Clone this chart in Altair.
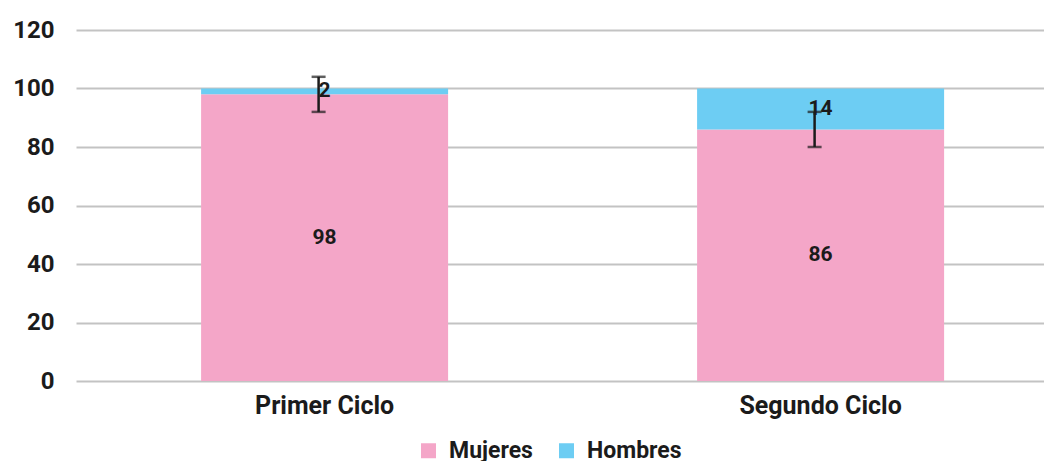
import altair as alt
import pandas as pd

# ---- data ----
categories = ["Primer Ciclo", "Segundo Ciclo"]
series = ["Mujeres", "Hombres"]
mujeres = [98, 86]
hombres = [2, 14]
error = [6, 6]
y_ticks = [0, 20, 40, 60, 80, 100, 120]

PINK = "#F4A6C8"
BLUE = "#6DCDF3"
INK = "#1b1b1b"
GRID = "#C3C3C3"
FONT = "Roboto"

rows = []
for i, c in enumerate(categories):
    rows.append({"ciclo": c, "serie": series[0], "valor": mujeres[i], "orden": 0})
    rows.append({"ciclo": c, "serie": series[1], "valor": hombres[i], "orden": 1})
df = pd.DataFrame(rows)
err_df = pd.DataFrame({"ciclo": categories, "valor": mujeres, "err": error})

x_enc = alt.X(
    "ciclo:N",
    sort=categories,
    scale=alt.Scale(paddingInner=0.502, paddingOuter=0.2268, align=0.556),
    axis=alt.Axis(
        title=None, labelAngle=0, labelFont=FONT, labelFontWeight="bold",
        labelFontSize=25, labelColor=INK, labelPadding=12, ticks=False,
        domain=False,
    ),
)
y_scale = alt.Scale(domain=[0, 120], nice=False)
y_axis = alt.Axis(
    title=None, values=y_ticks, labelFont=FONT, labelFontWeight="bold",
    labelFontSize=24, labelColor=INK, labelPadding=22, ticks=False,
    domain=False, grid=True, gridColor=GRID, gridWidth=2,
)

base = alt.Chart(df).transform_stack(
    stack="valor", groupby=["ciclo"], as_=["v0", "v1"],
    sort=[alt.SortField("orden", order="ascending")],
).transform_calculate(mid="(datum.v0 + datum.v1) / 2")

bars = base.mark_bar().encode(
    x=x_enc,
    y=alt.Y("v0:Q", scale=y_scale, axis=y_axis),
    y2="v1:Q",
    color=alt.Color(
        "serie:N",
        scale=alt.Scale(domain=series, range=[PINK, BLUE]),
        legend=alt.Legend(
            title=None, orient="none", legendX=341, legendY=409,
            direction="horizontal", symbolType="square", symbolSize=225,
            symbolStrokeWidth=0, labelFont=FONT, labelFontSize=23,
            labelFontWeight="bold", labelColor=INK, columnPadding=22,
            labelOffset=9,
        ),
    ),
)

eb = alt.Chart(err_df).transform_calculate(
    lo="datum.valor - datum.err", hi="datum.valor + datum.err"
)
rule = eb.mark_rule(color=INK, strokeWidth=2.5, xOffset=-6).encode(
    x=alt.X("ciclo:N", sort=categories), y="lo:Q", y2="hi:Q"
)
cap_lo = eb.mark_tick(color=INK, size=14, thickness=2.5, xOffset=-6).encode(
    x=alt.X("ciclo:N", sort=categories), y="lo:Q"
)
cap_hi = eb.mark_tick(color=INK, size=14, thickness=2.5, xOffset=-6).encode(
    x=alt.X("ciclo:N", sort=categories), y="hi:Q"
)

labels = base.mark_text(
    font=FONT, fontWeight="bold", fontSize=21, color=INK, baseline="middle"
).encode(
    x=alt.X("ciclo:N", sort=categories),
    y="mid:Q",
    text="valor:Q",
)

chart = (
    alt.layer(bars, rule, cap_lo, cap_hi, labels)
    .properties(
        width=968, height=351,
        padding={"left": 68, "top": 22, "right": 0, "bottom": 90},
        autosize="none",
    )
    .configure_view(stroke=None)
)

chart.save("out.html", embed_options={"renderer": "svg", "actions": False})
